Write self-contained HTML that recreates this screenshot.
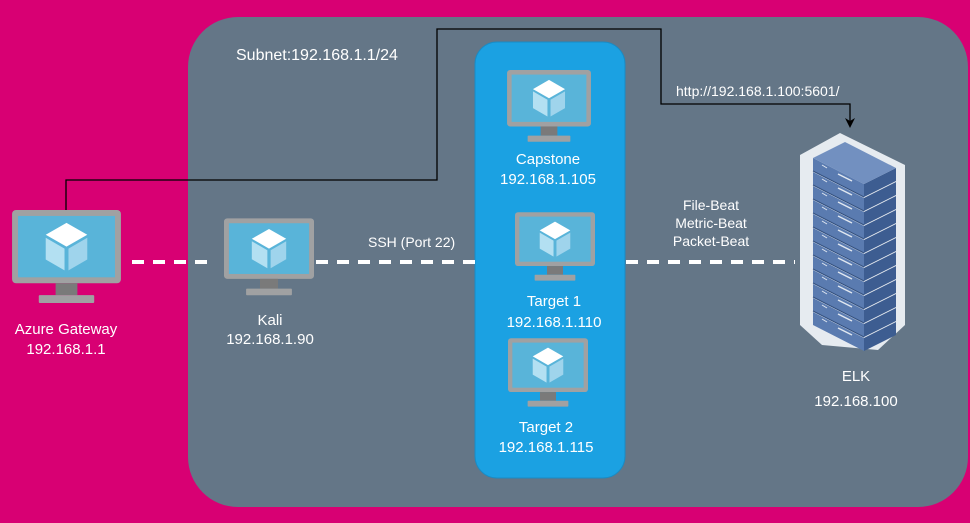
<!DOCTYPE html>
<html><head><style>
body{margin:0;background:#d80073;}
svg{display:block;}
text{font-family:"Liberation Sans",Arial,sans-serif;fill:#fff;}
</style></head><body>
<svg width="970" height="523" viewBox="0 0 970 523" xmlns="http://www.w3.org/2000/svg" font-family="Liberation Sans, Arial, sans-serif">
<defs>
<symbol id="mon" viewBox="0 0 110 97">
<rect x="0" y="0" width="110" height="74" rx="4" fill="#a0a1a2"/>
<rect x="6" y="6" width="98" height="62" fill="#59b4d9"/>
<rect x="44" y="74" width="22" height="12" fill="#7a7a7a"/>
<rect x="27" y="86" width="56" height="8" rx="1" fill="#a0a1a2"/>
<polygon points="55,13 76,25 55,37 34,25" fill="#fff"/>
<polygon points="34,28 53,39 53,61 34,50" fill="#b3e0f2"/>
<polygon points="57,39 76,28 76,50 57,61" fill="#9fd4ec"/>
</symbol>
<g id="slab">
<polygon points="813,158 864,184 864,197 813,171" fill="#5a7bb0"/>
<polygon points="864,184 896,168 896,181 864,197" fill="#3d5d91"/>
<line x1="822" y1="165" x2="827" y2="168" stroke="#dfe6f0" stroke-width="1"/>
<line x1="838" y1="174" x2="852" y2="181" stroke="#dfe6f0" stroke-width="1.5"/>
</g>
</defs>
<rect x="0" y="0" width="970" height="523" fill="#d80073"/>
<rect x="188" y="17" width="780" height="490" rx="50" fill="#647687"/>
<rect x="475" y="42" width="150" height="436" rx="22" fill="#1ba1e2" stroke="#1a8bc4"/>
<text x="236" y="60" font-size="16">Subnet:192.168.1.1/24</text>
<polyline points="66,210 66,180 437,180 437,29 661,29 661,104 850,104 850,122" fill="none" stroke="#000" stroke-width="1.3"/>
<polygon points="845,118 850,128 855,118 850,121" fill="#000"/>
<text x="676" y="96" font-size="14">http://192.168.1.100:5601/</text>
<g stroke="#fff" stroke-width="4" stroke-dasharray="12,9" fill="none">
<line x1="132" y1="262" x2="215" y2="262"/>
<line x1="316" y1="262" x2="475" y2="262"/>
<line x1="626" y1="262" x2="795" y2="262"/>
</g>
<text x="368" y="247" font-size="14">SSH (Port 22)</text>
<text x="711" y="210" font-size="14" text-anchor="middle">File-Beat</text>
<text x="711" y="228" font-size="14" text-anchor="middle">Metric-Beat</text>
<text x="711" y="246" font-size="14" text-anchor="middle">Packet-Beat</text>
<use href="#mon" x="12" y="210" width="109" height="96"/>
<use href="#mon" x="224" y="218" width="90" height="80"/>
<use href="#mon" x="507" y="70" width="84" height="74"/>
<use href="#mon" x="515" y="212" width="80" height="71"/>
<use href="#mon" x="508" y="338" width="80" height="71"/>
<g font-size="15" text-anchor="middle">
<text x="66" y="334">Azure Gateway</text>
<text x="66" y="354">192.168.1.1</text>
<text x="270" y="325">Kali</text>
<text x="270" y="344">192.168.1.90</text>
<text x="548" y="164">Capstone</text>
<text x="548" y="184">192.168.1.105</text>
<text x="554" y="306">Target 1</text>
<text x="554" y="327">192.168.1.110</text>
<text x="546" y="432">Target 2</text>
<text x="546" y="452">192.168.1.115</text>
<text x="856" y="381">ELK</text>
<text x="856" y="406">192.168.100</text>
</g>
<polygon points="840,133 905,165 905,325 878,350 822,345 800,325 800,155" fill="#e6ebf0"/>
<use href="#slab" y="0"/>
<use href="#slab" y="14"/>
<use href="#slab" y="28"/>
<use href="#slab" y="42"/>
<use href="#slab" y="56"/>
<use href="#slab" y="70"/>
<use href="#slab" y="84"/>
<use href="#slab" y="98"/>
<use href="#slab" y="112"/>
<use href="#slab" y="126"/>
<use href="#slab" y="140"/>
<use href="#slab" y="154"/>
<polygon points="813,158 845,142 896,168 864,184" fill="#7290c0"/>
<g stroke="#33507f" stroke-width="1">
<line x1="813" y1="171" x2="864" y2="197"/><line x1="813" y1="185" x2="864" y2="211"/>
<line x1="813" y1="199" x2="864" y2="225"/><line x1="813" y1="213" x2="864" y2="239"/>
<line x1="813" y1="227" x2="864" y2="253"/><line x1="813" y1="241" x2="864" y2="267"/>
<line x1="813" y1="255" x2="864" y2="281"/><line x1="813" y1="269" x2="864" y2="295"/>
<line x1="813" y1="283" x2="864" y2="309"/><line x1="813" y1="297" x2="864" y2="323"/>
<line x1="813" y1="311" x2="864" y2="337"/>
</g>
</svg>
</body></html>
